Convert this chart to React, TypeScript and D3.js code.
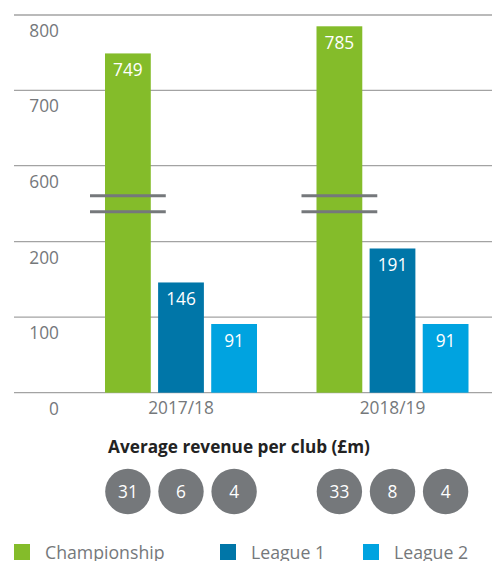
import React from "react";
import * as d3 from "d3";

const seasons = ["2017/18", "2018/19"];
const series = ["Championship", "League 1", "League 2"];
const revenue2017 = [749, 146, 91];
const revenue2018 = [785, 191, 91];
const perClub2017 = [31, 6, 4];
const perClub2018 = [33, 8, 4];
const yTicks = [0, 100, 200, 600, 700, 800];
const colors = ["#84bc2a", "#0076a8", "#00a3e0"];

const revenues = [revenue2017, revenue2018];
const perClub = [perClub2017, perClub2018];

const W = 492;
const H = 561;
const FONT = "'Open Sans', sans-serif";
const GREY = "#75787b";

export default function App() {
  const y = d3
    .scaleLinear()
    .domain([0, 200, 600, 800])
    .range([392.7, 241.7, 165.7, 15]);
  const x0 = d3.scaleBand<string>().domain(seasons).range([75.25, 498.25]);
  const x1 = d3
    .scaleBand<string>()
    .domain(series)
    .range([0, 152])
    .paddingInner(0.138);
  const groupLeft = (s: string) => x0(s)! + x0.bandwidth() / 2 - 76;
  const breakMid = (y(200) + y(600)) / 2;
  const bw = x1.bandwidth();

  return (
    <svg
      width={W}
      height={H}
      style={{ position: "absolute", left: 0, top: 0, display: "block" }}
      fontFamily={FONT}
    >
      {yTicks.map((t) => (
        <g key={t}>
          <line x1={14} x2={W} y1={y(t)} y2={y(t)} stroke="#a3a3a3" strokeWidth={1.3} />
          <text x={59} y={y(t) + 21.8} textAnchor="end" fontSize={17.3} fill={GREY}>
            {t}
          </text>
        </g>
      ))}
      {seasons.map((s, si) => (
        <g key={s}>
          {series.map((sr, i) => {
            const v = revenues[si][i];
            const bx = groupLeft(s) + x1(sr)!;
            return (
              <g key={sr}>
                <rect x={bx} y={y(v)} width={bw} height={y(0) - y(v)} fill={colors[i]} />
                <text
                  x={bx + bw / 2}
                  y={y(v) + 23}
                  textAnchor="middle"
                  fontSize={17.3}
                  fill="#fff"
                >
                  {v}
                </text>
              </g>
            );
          })}
          {[-8, 8].map((d) => {
            const bx = groupLeft(s) + x1(series[0])!;
            return (
              <line
                key={d}
                x1={bx - 15}
                x2={bx + bw + 15}
                y1={breakMid + d}
                y2={breakMid + d}
                stroke={GREY}
                strokeWidth={3}
              />
            );
          })}
          <text
            x={x0(s)! + x0.bandwidth() / 2}
            y={413.5}
            textAnchor="middle"
            fontSize={17.3}
            fill={GREY}
          >
            {s}
          </text>
          {series.map((sr, i) => {
            const cx = groupLeft(s) + x1(sr)! + bw / 2;
            return (
              <g key={"c" + sr}>
                <circle cx={cx} cy={491.5} r={22.7} fill={GREY} />
                <text x={cx} y={497.5} textAnchor="middle" fontSize={17.3} fill="#fff">
                  {perClub[si][i]}
                </text>
              </g>
            );
          })}
        </g>
      ))}
      <text x={239} y={453} textAnchor="middle" fontSize={17.2} fontWeight="bold" fill="#222">
        Average revenue per club (£m)
      </text>
      {series.map((sr, i) => {
        const lx = [14, 220, 363][i];
        return (
          <g key={"l" + sr}>
            <rect x={lx} y={544} width={16} height={16} fill={colors[i]} />
            <text x={lx + 31} y={559} fontSize={17.7} fill={GREY}>
              {sr}
            </text>
          </g>
        );
      })}
    </svg>
  );
}
